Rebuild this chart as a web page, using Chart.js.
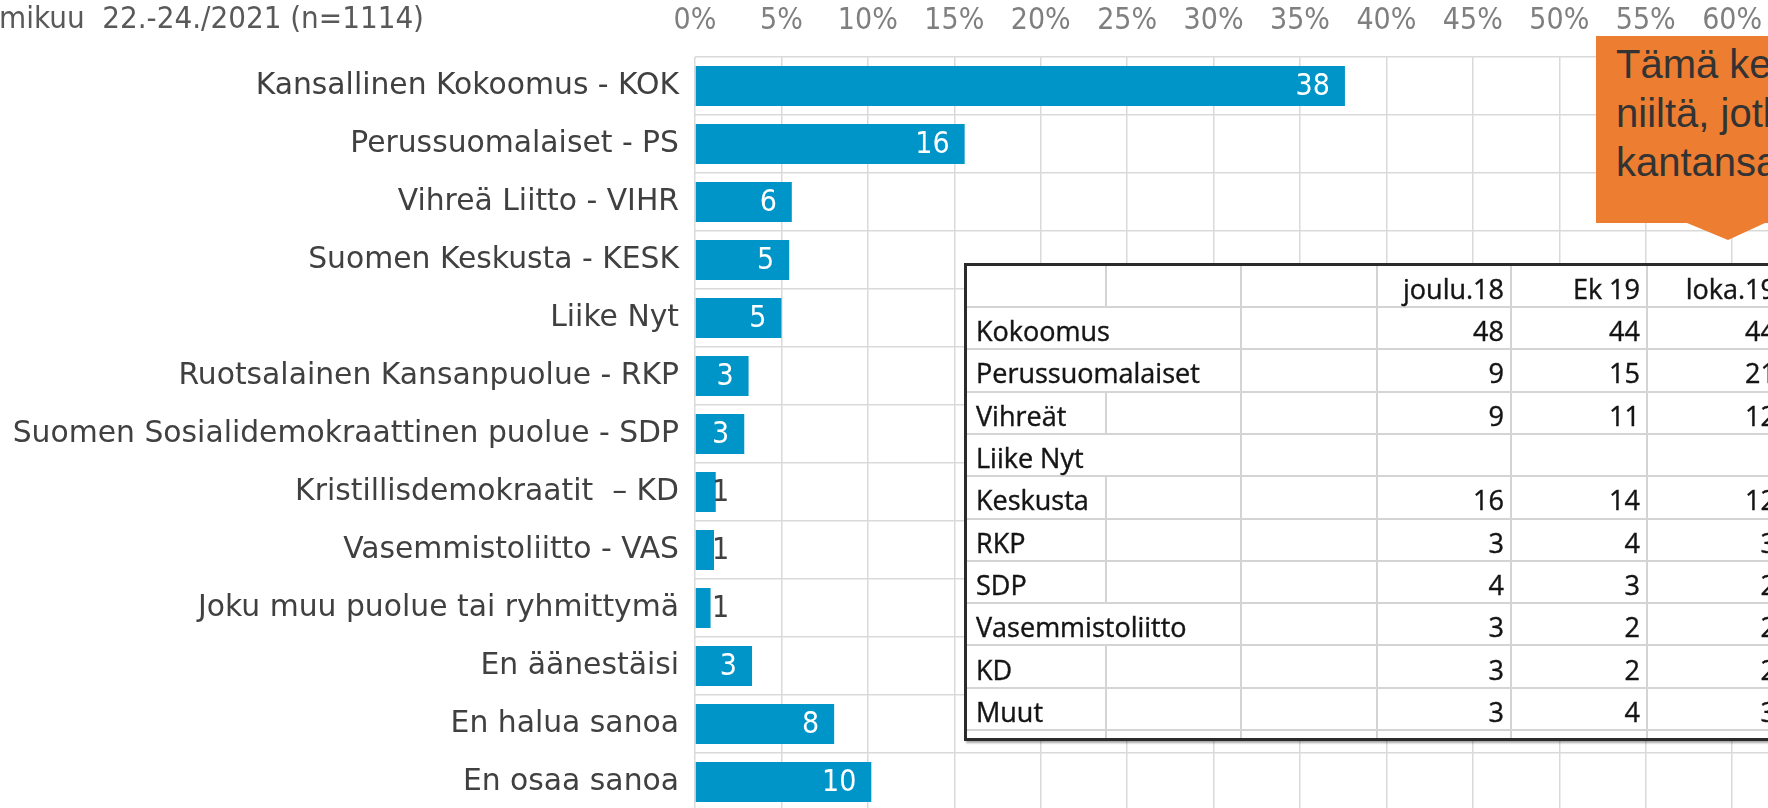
<!DOCTYPE html>
<html lang="fi">
<head>
<meta charset="utf-8">
<title>Puoluekannatus</title>
<script src="https://cdn.jsdelivr.net/npm/chart.js@4.4.1/dist/chart.umd.min.js"></script>
<style>
    html, body { margin: 0; padding: 0; background: #fff; }
    body { width: 1768px; height: 808px; overflow: hidden; position: relative; }
    #chartWrap { position: absolute; left: 0; top: 0; width: 1905px; height: 811px; }
    #title {
        position: absolute; left: 0; top: 0; width: 424px; height: 34px;
        display: flex; justify-content: flex-end; white-space: nowrap;
        font: 31px "DejaVu Sans Condensed", "DejaVu Sans", sans-serif; color: #595959; line-height: 34px;
    }
    #compareTable {
        position: absolute; left: 964px; top: 263px; width: 900px; height: 472px;
        border: 3px solid #2b2b2b; background: #fff;
        box-shadow: 2px 2px 2px rgba(0,0,0,0.35);
        font: 27px "Open Sans", sans-serif; color: #141414;
        -webkit-text-stroke: 0.4px #141414;
    }
    #compareTable .ln { position: absolute; background: #d4d4d4; }
    #compareTable .txt { position: absolute; white-space: nowrap; line-height: 1; }
    #callout { position: absolute; left: 1596px; top: 36px; width: 260px; height: 187px; background: #ed7d31; }
    #callout div {
        position: absolute; left: 20px; white-space: nowrap;
        font: 40px "Liberation Sans", Arial, sans-serif; color: #333;
    }
    #pointer { position: absolute; left: 1680px; top: 222px; }
</style>
</head>
<body>
<div id="chartWrap"><canvas id="partyChart" width="1905" height="811"></canvas></div>
<div id="title">Helmikuu&nbsp; 22.-24./2021 (n=1114)</div>
<div id="compareTable"></div>
<svg id="pointer" width="100" height="30"><polygon points="7,1 48,18 85,1" fill="#ed7d31"/></svg>
<div id="callout">
    <div style="top:6px">Tämä kertoo</div>
    <div style="top:55px">niiltä, jotka</div>
    <div style="top:104px">kantansa</div>
</div>

<script>
// kannatus, % vastaajista
const parties = [
    "Kansallinen Kokoomus - KOK",
    "Perussuomalaiset - PS",
    "Vihreä Liitto - VIHR",
    "Suomen Keskusta - KESK",
    "Liike Nyt",
    "Ruotsalainen Kansanpuolue - RKP",
    "Suomen Sosialidemokraattinen puolue - SDP",
    "Kristillisdemokraatit  – KD",
    "Vasemmistoliitto - VAS",
    "Joku muu puolue tai ryhmittymä",
    "En äänestäisi",
    "En halua sanoa",
    "En osaa sanoa"
];
const shares = [37.6, 15.6, 5.6, 5.45, 5.0, 3.1, 2.85, 1.2, 1.1, 0.9, 3.3, 8.05, 10.2];
const shareLabels = ["38", "16", "6", "5", "5", "3", "3", "1", "1", "1", "3", "8", "10"];
const xTicks = [0, 5, 10, 15, 20, 25, 30, 35, 40, 45, 50, 55, 60, 65, 70];

// aiempien mittausten taulukko
const tableHeaders = ["joulu.18", "Ek 19", "loka.19"];
const tableRows = ["Kokoomus", "Perussuomalaiset", "Vihreät", "Liike Nyt", "Keskusta", "RKP", "SDP", "Vasemmistoliitto", "KD", "Muut"];
const joulu18 = [48, 9, 9, null, 16, 3, 4, 3, 3, 3];
const ek19 = [44, 15, 11, null, 14, 4, 3, 2, 2, 4];
const loka19 = [44, 21, 12, null, 12, 3, 2, 2, 2, 3];
const wideRows = ["Kokoomus", "Perussuomalaiset", "Liike Nyt", "Vasemmistoliitto"];

const labelFont = "'DejaVu Sans', sans-serif";
const numberFont = "'DejaVu Sans Condensed', 'DejaVu Sans', sans-serif";

const barLabels = {
    id: "barLabels",
    afterDatasetsDraw(chart) {
        const ctx = chart.ctx;
        const x0 = chart.scales.x.getPixelForValue(0);
        const meta = chart.getDatasetMeta(0);
        ctx.save();
        ctx.font = `30px ${numberFont}`;
        ctx.textBaseline = "middle";
        meta.data.forEach((bar, i) => {
            const text = shareLabels[i];
            const w = ctx.measureText(text).width;
            if (bar.x - x0 > w + 24) {
                ctx.fillStyle = "#fff";
                ctx.textAlign = "right";
                ctx.fillText(text, bar.x - 15, bar.y + 1);
            } else {
                ctx.fillStyle = "#404040";
                ctx.textAlign = "left";
                ctx.fillText(text, x0 + 17, bar.y + 1);
            }
        });
        ctx.restore();
    }
};

new Chart(document.getElementById("partyChart"), {
    type: "bar",
    data: {
        labels: parties,
        datasets: [{
            data: shares,
            backgroundColor: "#0095c8",
            barPercentage: 0.69,
            categoryPercentage: 1
        }]
    },
    options: {
        indexAxis: "y",
        responsive: false,
        animation: false,
        devicePixelRatio: 1,
        layout: { padding: 0 },
        plugins: { legend: { display: false }, tooltip: { enabled: false } },
        scales: {
            x: {
                position: "top",
                min: 0,
                max: 70,
                afterBuildTicks: scale => { scale.ticks = xTicks.map(v => ({ value: v })); },
                afterFit: scale => { scale.height = 57; scale.paddingLeft = 0; scale.paddingRight = 0; },
                ticks: {
                    color: "#7f7f7f",
                    font: { family: numberFont, size: 30 },
                    padding: 18,
                    maxRotation: 0,
                    callback: v => v + "%"
                },
                grid: { color: "#d9d9d9", lineWidth: 1.5, drawTicks: false },
                border: { display: false }
            },
            y: {
                afterFit: scale => { scale.width = 695; scale.paddingTop = 0; scale.paddingBottom = 0; },
                ticks: {
                    color: "#404040",
                    font: { family: labelFont, size: 29.8 },
                    padding: 16,
                    autoSkip: false
                },
                grid: { color: "#d9d9d9", lineWidth: 1.5, drawTicks: false },
                border: { display: false }
            }
        }
    },
    plugins: [barLabels]
});

// Excel-taulukko kuvan päällä
function buildTable() {
    const box = document.getElementById("compareTable");
    const colX = [0, 139, 274, 410, 544, 680, 816];
    const headH = 41;
    const rowH = 42.3;
    const rowTops = [0];
    for (let i = 0; i <= tableRows.length; i++) rowTops.push(headH + i * rowH);
    const bottom = 472;

    const add = (cls, style, text) => {
        const el = document.createElement("div");
        el.className = cls;
        Object.assign(el.style, style);
        if (text != null) el.textContent = text;
        box.appendChild(el);
    };

    rowTops.slice(1).forEach(y => add("ln", { left: "0px", top: (y - 1) + "px", width: "900px", height: "2px" }));

    for (let c = 1; c < colX.length - 1; c++) {
        const x = colX[c] - 1;
        if (c === 1) {
            // rivit, joissa teksti jatkuu toiseen sarakkeeseen
            const segs = [[0, rowTops[1]]];
            tableRows.forEach((name, r) => {
                if (!wideRows.includes(name)) segs.push([rowTops[r + 1], rowTops[r + 2]]);
            });
            segs.push([rowTops[rowTops.length - 1], bottom]);
            segs.forEach(([a, b]) => add("ln", { left: x + "px", top: a + "px", width: "2px", height: (b - a) + "px" }));
        } else {
            add("ln", { left: x + "px", top: "0px", width: "2px", height: bottom + "px" });
        }
    }

    const cols = [joulu18, ek19, loka19];
    tableHeaders.forEach((h, j) => {
        add("txt", { right: (900 - colX[j + 4] + 7) + "px", top: (headH / 2 - 12) + "px" }, h);
    });
    tableRows.forEach((name, r) => {
        const top = rowTops[r + 1] + rowH / 2 - 11;
        add("txt", { left: "9px", top: top + "px" }, name);
        cols.forEach((vals, j) => {
            if (vals[r] == null) return;
            add("txt", { right: (900 - colX[j + 4] + 7) + "px", top: top + "px" }, String(vals[r]));
        });
    });
}

buildTable();
</script>
</body>
</html>
